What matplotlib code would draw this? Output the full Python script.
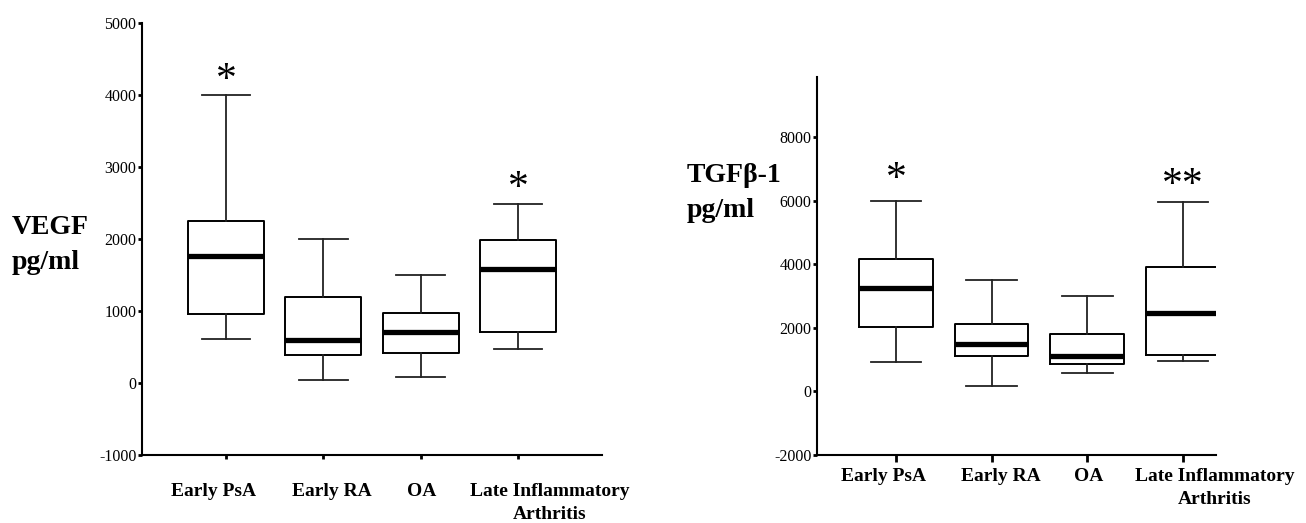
import matplotlib
matplotlib.use("Agg")
import matplotlib.pyplot as plt
import matplotlib.transforms as mtransforms

plt.rcParams['font.family'] = ['Liberation Serif', 'DejaVu Serif']
plt.rcParams['axes.unicode_minus'] = False

groups = ["Early PsA", "Early RA", "OA", "Late Inflammatory\nArthritis"]
label_shift = [-12, 9, 1, 32]  # px, labels sit a bit off their ticks

# VEGF (pg/ml)
vegf_low = [610, 40, 90, 470]
vegf_q1 = [957, 390, 420, 712]
vegf_med = [1760, 600, 707, 1590]
vegf_q3 = [2247, 1190, 975, 1993]
vegf_high = [4000, 2000, 1495, 2492]
vegf_stars = ["*", "", "", "*"]
vegf_star_y = [4200, 0, 0, 2700]

# TGFb-1 (pg/ml)
tgf_low = [930, 165, 580, 970]
tgf_q1 = [2026, 1126, 878, 1147]
tgf_med = [3245, 1488, 1106, 2480]
tgf_q3 = [4176, 2119, 1798, 3917]
tgf_high = [5984, 3504, 3008, 5974]
tgf_stars = ["*", "", "", "**"]
tgf_star_y = [6650, 0, 0, 6490]


def make_stats(low, q1, med, q3, high):
    return [dict(whislo=a, q1=b, med=c, q3=d, whishi=e, fliers=[])
            for a, b, c, d, e in zip(low, q1, med, q3, high)]


def draw(ax, stats, width, capw, label_drop):
    ax.bxp(stats, positions=range(1, len(stats) + 1), widths=width,
           capwidths=capw, showfliers=False, patch_artist=False,
           boxprops=dict(color="black", linewidth=1.4),
           medianprops=dict(color="black", linewidth=3.8, solid_capstyle="butt"),
           whiskerprops=dict(color="#222222", linewidth=1.3),
           capprops=dict(color="#222222", linewidth=1.3))
    for s in ["top", "right"]:
        ax.spines[s].set_visible(False)
    ax.spines["left"].set_linewidth(1.5)
    ax.spines["bottom"].set_linewidth(1.5)
    ax.set_xticks(range(1, len(stats) + 1))
    ax.set_xticklabels([])
    # category labels drawn as texts so they can sit off their ticks
    for i, (name, dx) in enumerate(zip(groups, label_shift)):
        tr = ax.get_xaxis_transform() + mtransforms.ScaledTranslation(
            dx / 100, -label_drop / 100, fig.dpi_scale_trans)
        ax.text(i + 1, 0, name, transform=tr, fontsize=14, fontweight="bold",
                ha="center", va="top", linespacing=1.45)
    ax.tick_params(axis="y", labelsize=11.5, length=3, width=2, pad=1)


fig = plt.figure(figsize=(13.06, 5.23), dpi=100)

ax1 = fig.add_axes([142 / 1306, 1 - 455 / 523, 460 / 1306, 432 / 523])
draw(ax1, make_stats(vegf_low, vegf_q1, vegf_med, vegf_q3, vegf_high), 0.78, 0.5, 28)
ax1.set_xlim(0.137, 4.863)
ax1.set_ylim(-1000, 5000)
ax1.set_yticks([-1000, 0, 1000, 2000, 3000, 4000, 5000])
ax1.tick_params(axis="x", length=3, width=2)
for i, (s, y) in enumerate(zip(vegf_stars, vegf_star_y)):
    if s:
        ax1.text(i + 1, y, s, fontsize=30, ha="center", va="center")
fig.text(12 / 1306, 1 - 245 / 523, "VEGF\npg/ml", fontsize=20, fontweight="bold",
         ha="left", va="center", linespacing=1.5)

ax2 = fig.add_axes([817 / 1306, 1 - 455 / 523, 399 / 1306, 378 / 523])
draw(ax2, make_stats(tgf_low, tgf_q1, tgf_med, tgf_q3, tgf_high), 0.77, 0.53, 13)
ax2.set_xlim(0.175, 4.345)
ax2.set_ylim(-2000, 9900)
ax2.set_yticks([-2000, 0, 2000, 4000, 6000, 8000])
ax2.tick_params(axis="x", length=5, width=2)
for i, (s, y) in enumerate(zip(tgf_stars, tgf_star_y)):
    if s:
        ax2.text(i + 1, y, s, fontsize=30, ha="center", va="center")
fig.text(687 / 1306, 1 - 193 / 523, "TGF\u03b2-1\npg/ml", fontsize=20, fontweight="bold",
         ha="left", va="center", linespacing=1.5)

fig.savefig("out.png", dpi=100)
